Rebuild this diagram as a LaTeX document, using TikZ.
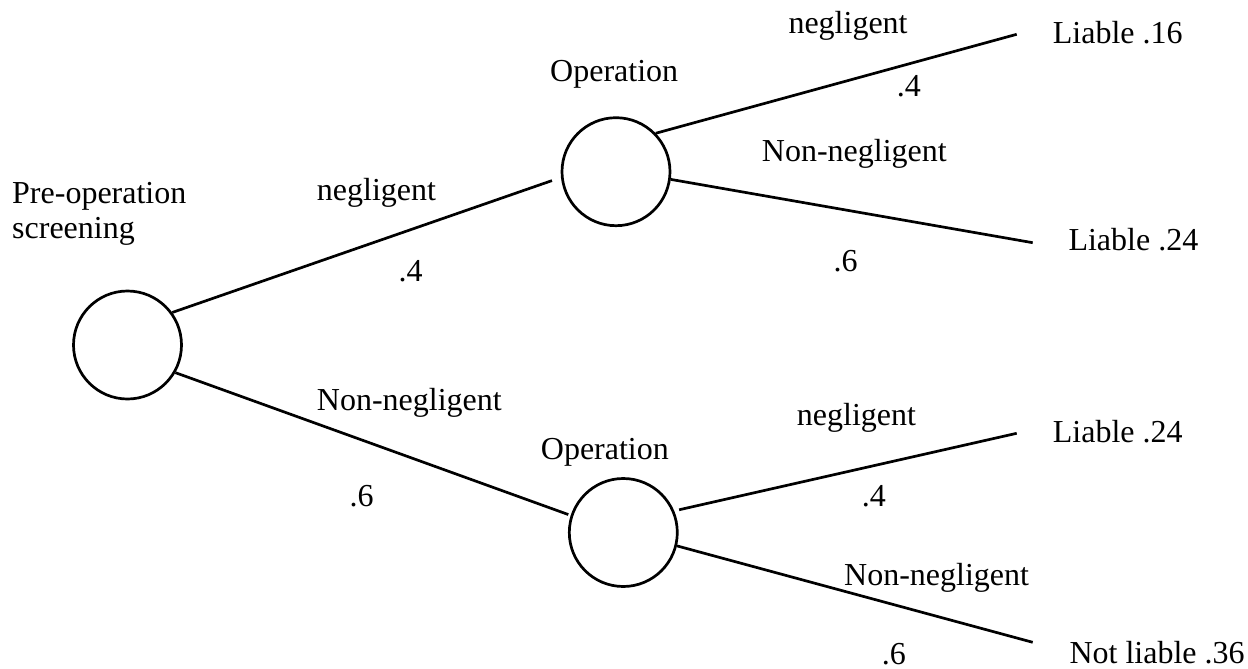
\documentclass[tikz,border=0pt]{standalone}
\usepackage{fontspec}
\setmainfont{Liberation Serif}
\begin{document}
\begin{tikzpicture}[x=1pt,y=-1pt,
  chance/.style={circle,draw,line width=2.7pt,minimum size=108pt,inner sep=0pt},
  txt/.style={anchor=base west,inner sep=0pt,font=\fontsize{32}{36}\selectfont},
  branch/.style={line width=2.7pt}]
\useasboundingbox (0,0) rectangle (1248,669);
% chance nodes
\node[chance] (root) at (127.5,345) {};
\node[chance] (op1) at (616,171.7) {};
\node[chance] (op2) at (623.3,532.5) {};
% free ends
\coordinate (e1) at (1016.7,34.3);
\coordinate (e2) at (1032.7,242.7);
\coordinate (e3) at (1016.7,433.3);
\coordinate (e4) at (1032.7,642.3);
% branches
\draw[branch,shorten >=9.5pt] (root.36.4) -- (op1.186);
\draw[branch,shorten >=2.5pt] (root.-30.5) -- (op2.162);
\draw[branch] (op1.44.5) -- (e1);
\draw[branch] (op1.-8.5) -- (e2);
\draw[branch,shorten <=5pt] (op2.23) -- (e3);
\draw[branch] (op2.-14.7) -- (e4);
% node titles
\node[txt] (t0a) at (12,203.3) {Pre-operation};
\node[txt] (t0b) at (12,238.3) {screening};
\node[txt] (t1) at (550,81.7) {Operation};
\node[txt] (t2) at (540.7,459.3) {Operation};
% branch labels
\node[txt] (l1) at (316.7,200.7) {negligent};
\node[txt] (p1) at (398.3,281.7) {.4};
\node[txt] (l2) at (316.7,410) {Non-negligent};
\node[txt] (p2) at (349.3,506) {.6};
\node[txt] (l3) at (788.3,33.3) {negligent};
\node[txt] (p3) at (896.7,96.7) {.4};
\node[txt] (l4) at (761.7,161.7) {Non-negligent};
\node[txt] (p4) at (833.3,271.7) {.6};
\node[txt] (l5) at (796.7,425) {negligent};
\node[txt] (p5) at (861.7,506) {.4};
\node[txt] (l6) at (844,585) {Non-negligent};
\node[txt] (p6) at (881.7,664.5) {.6};
% outcomes
\node[txt] (o1) at (1052.7,43.3) {Liable .16};
\node[txt] (o2) at (1068.3,250.7) {Liable .24};
\node[txt] (o3) at (1052.7,442.7) {Liable .24};
\node[txt] (o4) at (1069.3,663.3) {Not liable .36};
\end{tikzpicture}
\end{document}
